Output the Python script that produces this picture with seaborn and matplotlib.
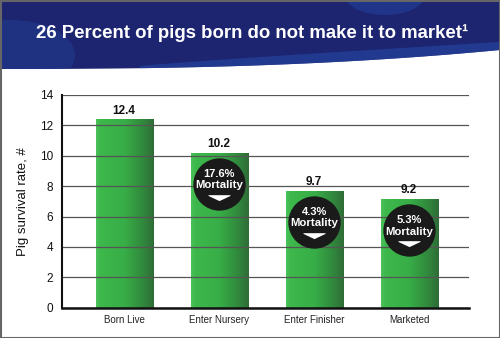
import numpy as np
import matplotlib
matplotlib.use("Agg")
import matplotlib.pyplot as plt
import seaborn as sns
from matplotlib.transforms import offset_copy
from matplotlib.patches import Polygon, Rectangle, Ellipse
from matplotlib.colors import LinearSegmentedColormap

categories = ["Born Live", "Enter Nursery", "Enter Finisher", "Marketed"]
bar_heights = [12.4, 10.2, 7.7, 7.15]
value_labels = ["12.4", "10.2", "9.7", "9.2"]
mortality_labels = [None, "17.6%", "4.3%", "5.3%"]
y_ticks = [0, 2, 4, 6, 8, 10, 12, 14]
title = "26 Percent of pigs born do not make it to market\u00b9"
y_label = "Pig survival rate, #"

sns.set_theme(style="white")
plt.rcParams["font.family"] = ["Liberation Sans", "DejaVu Sans"]

fig = plt.figure(figsize=(5.0, 3.38), dpi=100)

# background / banner axes
bg = fig.add_axes([0, 0, 1, 1], zorder=-1)
bg.set_xlim(0, 500)
bg.set_ylim(338, 0)
bg.axis("off")
xs = np.linspace(0, 500, 200)
curve = 69 - 19 * (xs / 500) ** 2.5
banner = np.vstack([np.column_stack([xs, curve]), [[500, 0], [0, 0]]])
navy = Polygon(banner, closed=True, facecolor="#1e2570", edgecolor="none")
bg.add_patch(navy)
# lighter swooshes (clipped to banner)
swooshes = []
xs2 = np.linspace(140, 500, 100)
top2 = 66 - 24 * ((xs2 - 140) / 360) ** 0.9
sw = np.vstack([np.column_stack([xs2, top2]), [[500, 80], [140, 80]]])
swooshes.append(Polygon(sw, closed=True, facecolor="#23409a", edgecolor="none", alpha=0.75))
swooshes.append(Ellipse((385, -5), 80, 40, facecolor="#23409a", edgecolor="none", alpha=0.6))
swooshes.append(Ellipse((10, 55), 130, 70, facecolor="#213a8e", edgecolor="none", alpha=0.6))
for s in swooshes:
    bg.add_patch(s)
    s.set_clip_path(navy)
bg.text(252, 33, title, color="white", ha="center", va="center",
        fontsize=13.4, fontweight="bold")
bg.add_patch(Rectangle((0.5, 0.5), 499, 337, facecolor="none", edgecolor="#666666", lw=1.5))

# main axes
ax = fig.add_axes([0.1234, 0.0896, 0.937 - 0.1234, 0.719 - 0.0896])
ax.set_facecolor("none")
sns.barplot(x=categories, y=bar_heights, ax=ax, width=0.6, color="#3cb54a",
            saturation=1, edgecolor="none")
ax.set_xlim(-0.656, 3.624)
ax.set_ylim(0, 14)
ax.set_yticks(y_ticks)
ax.set_yticklabels([str(t) for t in y_ticks], fontsize=8.5, color="#111111")
ax.tick_params(axis="x", labelsize=7, colors="#222222", length=0, pad=5)
ax.tick_params(axis="y", length=0, pad=6)
ax.set_ylabel(y_label, fontsize=9.5, color="#111111", labelpad=8)
ax.set_xlabel("")

cmap = LinearSegmentedColormap.from_list(
    "g", [(0, "#4cc25a"), (0.08, "#3db84b"), (0.5, "#37ad47"), (0.8, "#318a3d"), (1, "#2f6c37")])
grad = np.linspace(0, 1, 256).reshape(1, -1)
for p in ax.patches:
    x0, y0 = p.get_x(), p.get_y()
    w, h = p.get_width(), p.get_height()
    im = ax.imshow(grad, cmap=cmap, aspect="auto", extent=[x0, x0 + w, y0, y0 + h],
                   zorder=1.5, interpolation="bilinear")
    im.set_clip_path(p)
ax.set_xlim(-0.656, 3.624)
ax.set_ylim(0, 14)

ax.set_axisbelow(False)
ax.yaxis.grid(True, color="#555555", lw=0.9, zorder=2)
ax.xaxis.grid(False)
for s in ["top", "right"]:
    ax.spines[s].set_visible(False)
ax.spines["left"].set_color("#111111")
ax.spines["left"].set_linewidth(1.5)
ax.spines["bottom"].set_color("#111111")
ax.spines["bottom"].set_linewidth(1.8)
ax.spines["left"].set_zorder(4)
ax.spines["bottom"].set_zorder(4)

for i, (h, lab) in enumerate(zip(bar_heights, value_labels)):
    ax.annotate(lab, (i, h), xytext=(0, 2), textcoords="offset points",
                ha="center", va="bottom", fontsize=8.5, fontweight="bold", color="#111111")

for i, (h, m) in enumerate(zip(bar_heights, mortality_labels)):
    if m is None:
        continue
    tc = offset_copy(ax.transData, fig=fig, x=0, y=-31, units="dots")
    ax.scatter([i], [h], s=1420, color="#1a1a1a", transform=tc, zorder=5, linewidths=0)
    t1 = offset_copy(ax.transData, fig=fig, x=0, y=-21, units="dots")
    ax.text(i, h, m, transform=t1, ha="center", va="center", fontsize=8,
            fontweight="bold", color="white", zorder=6)
    t2 = offset_copy(ax.transData, fig=fig, x=0, y=-32.5, units="dots")
    ax.text(i, h, "Mortality", transform=t2, ha="center", va="center", fontsize=8.2,
            fontweight="bold", color="white", zorder=6)
    t3 = offset_copy(ax.transData, fig=fig, x=0, y=-43, units="dots")
    ax.scatter([i], [h], marker=[(-1, 0.12), (1, 0.12), (1, 0.05), (0, -0.42), (-1, 0.05)],
               s=250, color="white", transform=t3, zorder=6, linewidths=0)

fig.savefig("out.png", dpi=100)
